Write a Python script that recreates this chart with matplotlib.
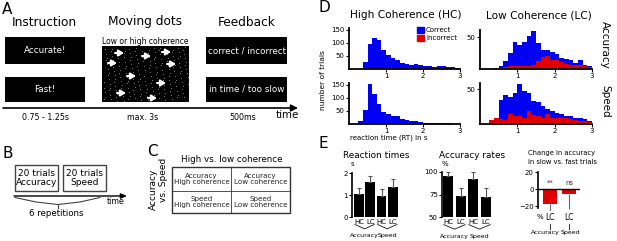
import numpy as np
import matplotlib
matplotlib.use('Agg')
import matplotlib.pyplot as plt
from matplotlib.patches import Rectangle, Patch
from matplotlib.transforms import blended_transform_factory

W, H = 617, 241

# ---------------- data ----------------
rt_bin_width = 0.125  # s
hc_acc_correct   = [0, 0, 0, 25, 97, 119, 112, 72, 54, 41, 34, 22, 19, 15, 19, 15, 10, 10, 8, 12, 12, 8, 6, 4]
hc_acc_incorrect = [0, 0, 0, 1, 2, 2, 2, 2, 1, 1, 1, 1, 1, 1, 1, 1, 0, 1, 0, 1, 0, 0, 0, 0]
lc_acc_correct   = [0, 0, 0, 2, 5, 12, 25, 43, 37, 42, 52, 60, 41, 29, 29, 26, 23, 17, 16, 14, 9, 14, 6, 5]
lc_acc_incorrect = [0, 0, 0, 1, 2, 3, 5, 5, 4, 5, 4, 6, 13, 19, 20, 14, 14, 11, 8, 6, 7, 7, 5, 3]
hc_spd_correct   = [0, 0, 10, 53, 151, 113, 76, 46, 37, 29, 32, 18, 14, 12, 10, 8, 5, 5, 4, 4, 2, 2, 1, 1]
hc_spd_incorrect = [0, 0, 1, 2, 3, 3, 2, 2, 1, 1, 1, 1, 1, 1, 1, 0, 1, 0, 0, 0, 0, 0, 0, 0]
lc_spd_correct   = [0, 0, 4, 9, 34, 42, 39, 44, 58, 47, 45, 33, 32, 26, 22, 19, 16, 14, 11, 12, 9, 8, 7, 5]
lc_spd_incorrect = [0, 0, 6, 8, 7, 6, 15, 11, 11, 9, 18, 13, 12, 9, 14, 9, 9, 8, 8, 7, 6, 4, 4, 3]

e_conditions = ['HC', 'LC', 'HC', 'LC']
e_groups = ['Accuracy', 'Speed']
rt_means = [1.03, 1.60, 0.95, 1.38]
rt_errs = [0.31, 0.28, 0.33, 0.36]
acc_means = [95.1, 73.3, 92.1, 72.6]
acc_errs = [4.5, 9.4, 7.5, 10.1]
chg_labels = ['LC', 'LC']
chg_means = [-17.6, -5.9]
chg_errs = [11.8, 17.6]
chg_sig = ['**', 'ns']

BLUE = '#0000f5'
RED = '#e00000'

fig = plt.figure(figsize=(6.17, 2.41), dpi=100)


def rect(l, t, r, b):
    return [l / W, 1 - b / H, (r - l) / W, (b - t) / H]


# overlay axes in pixel coordinates for schematic parts
ov = fig.add_axes([0, 0, 1, 1], zorder=10)
ov.set_xlim(0, W)
ov.set_ylim(H, 0)
ov.axis('off')
ov.patch.set_alpha(0)


def T(x, y, s, size, **kw):
    kw.setdefault('ha', 'center')
    kw.setdefault('va', 'center')
    ov.text(x, y, s, fontsize=size, **kw)


# panel letters
for lab, x, y in [('A', 2, 10), ('B', 3, 153), ('C', 147, 152), ('D', 318, 8), ('E', 318, 143)]:
    T(x, y, lab, 11, ha='left')

# ---------------- Panel A ----------------
T(44, 22, 'Instruction', 8.7)
T(144.5, 22, 'Moving dots', 8.7)
T(246.5, 22, 'Feedback', 8.7)
T(145, 42, 'Low or high coherence', 5.5)

for (l, t, r, b), txt in [((5, 37, 85, 64), 'Accurate!'), ((5, 77, 85, 102), 'Fast!'),
                          ((206, 37, 287, 64), 'correct / incorrect'),
                          ((206, 77, 287, 102), 'in time / too slow')]:
    ov.add_patch(Rectangle((l, t), r - l, b - t, color='black', lw=0))
    T((l + r) / 2, (t + b) / 2, txt, 6.3, color='white')

# moving dots box
ov.add_patch(Rectangle((102, 46), 87, 56, color='black', lw=0))
n = np.arange(1, 200)
g = 1.32471795724474602596
qx = (0.5 + n / g) % 1
qy = (0.5 + n / g ** 2) % 1
ov.scatter(103 + qx * 85, 47 + qy * 54, s=0.25, color='#bbbbbb', lw=0)
arrows = [(115, 53), (142, 56), (162, 52), (108, 63), (167, 64), (127, 76), (157, 83), (117, 93), (148, 98)]
for ax_, ay_ in arrows:
    ov.annotate('', xy=(ax_ + 9, ay_), xytext=(ax_, ay_),
                arrowprops=dict(arrowstyle='-|>,head_length=0.3,head_width=0.18', color='white', lw=1.5,
                                shrinkA=0, shrinkB=0))

# time arrow
ov.annotate('', xy=(298, 108), xytext=(3, 108),
            arrowprops=dict(arrowstyle='-|>,head_length=0.4,head_width=0.2', color='black', lw=1.2,
                            shrinkA=0, shrinkB=0))
T(46, 117, '0.75 - 1.25s', 5.7)
T(143, 117, 'max. 3s', 5.7)
T(243, 117, '500ms', 5.7)
T(287, 115, 'time', 7.4)

# ---------------- Panel B ----------------
for (l, r), txt in [((15, 58), '20 trials\nAccuracy'), ((63, 106), '20 trials\nSpeed')]:
    ov.add_patch(Rectangle((l, 165), r - l, 26, fill=False, ec='#444444', lw=1))
    T((l + r) / 2, 178, txt, 6.5, linespacing=1.0)
ov.annotate('', xy=(127, 196), xytext=(14, 196),
            arrowprops=dict(arrowstyle='-|>,head_length=0.35,head_width=0.15', color='black', lw=1,
                            shrinkA=0, shrinkB=0))
T(116, 202, 'time', 5.7)
ov.plot([15, 36, 58, 80, 100], [197.5, 202, 204.5, 202, 197.5], color='#444444', lw=0.8)
ov.plot([58, 58], [204.5, 207.5], color='#444444', lw=0.8)
T(56, 213, '6 repetitions', 6.2)

# ---------------- Panel C ----------------
T(232, 159, 'High vs. low coherence', 6.3)
ov.add_patch(Rectangle((172, 167), 118, 46, fill=False, ec='#333333', lw=1))
ov.plot([231, 231], [167, 213], color='#333333', lw=0.6)
ov.plot([172, 290], [190.5, 190.5], color='#333333', lw=0.6)
for x, y, txt in [(201.5, 179, 'Accuracy\nHigh coherence'), (260.5, 179, 'Accuracy\nLow coherence'),
                  (201.5, 202, 'Speed\nHigh coherence'), (260.5, 202, 'Speed\nLow coherence')]:
    T(x, y, txt, 5.1, linespacing=1.05, color='#222222')
T(153, 189, 'Accuracy', 6.5, rotation=90)
T(164, 180, 'vs. Speed', 6.5, rotation=90)

# ---------------- Panel D ----------------
T(405.5, 15, 'High Coherence (HC)', 7.6)
T(539, 15, 'Low Coherence (LC)', 7.6)
T(605, 45, 'Accuracy', 7.5, rotation=270)
T(605, 101, 'Speed', 7.5, rotation=270)
T(323, 80, 'number of trials', 5.4, rotation=90)
T(389, 138, 'reaction time (RT) in s', 5.0)


def hist(rc, correct, incorrect, ymax, yticks):
    ax = fig.add_axes(rect(*rc))
    edges = np.arange(len(correct)) * rt_bin_width
    ax.bar(edges, correct, width=rt_bin_width, align='edge', color=BLUE, lw=0)
    ax.bar(edges, incorrect, width=rt_bin_width, align='edge', color=RED, lw=0)
    ax.set_xlim(0, 3)
    ax.set_ylim(0, ymax)
    ax.set_xticks([1, 2, 3])
    ax.set_yticks(yticks)
    for s in ('top', 'right'):
        ax.spines[s].set_visible(False)
    for s in ('left', 'bottom'):
        ax.spines[s].set_linewidth(1.3)
    ax.tick_params(labelsize=5, length=2, width=0.8, pad=1)
    ax.patch.set_alpha(0)
    return ax


ax1 = hist((349, 28, 460, 69), hc_acc_correct, hc_acc_incorrect, 156, [50, 100, 150])
ax2 = hist((480, 30, 592, 69), lc_acc_correct, lc_acc_incorrect, 61, [50])
ax3 = hist((349, 83, 460, 124), hc_spd_correct, hc_spd_incorrect, 156, [50, 100, 150])
ax4 = hist((480, 83, 592, 124), lc_spd_correct, lc_spd_incorrect, 59, [50])
ax1.legend(handles=[Patch(color=BLUE, label='Correct'), Patch(color=RED, label='Incorrect')],
           loc='upper left', bbox_to_anchor=(0.58, 1.12), frameon=False, fontsize=5,
           handlelength=1.0, handleheight=1.0, handletextpad=0.3, labelspacing=0.25, borderpad=0)

# ---------------- Panel E ----------------
T(376.7, 155, 'Reaction times', 6.4)
T(471.7, 155, 'Accuracy rates', 6.4)
T(562, 153, 'Change in accuracy', 4.9)
T(562, 162, 'in slow vs. fast trials', 4.9)


def bar_panel(rc, means, errs, ylim, yticks, xlim, unit, unit_xy, width):
    ax = fig.add_axes(rect(*rc))
    x = np.arange(len(means))
    ax.bar(x, means, width=width, color='black', lw=0)
    ax.errorbar(x, means, yerr=[np.zeros(len(errs)), errs], fmt='none', ecolor='#555555',
                elinewidth=0.8, capsize=1.5, capthick=0.8)
    ax.set_xlim(*xlim)
    ax.set_ylim(*ylim)
    ax.set_yticks(yticks)
    ax.set_xticks(x)
    ax.set_xticklabels(e_conditions)
    for s in ('top', 'right', 'bottom'):
        ax.spines[s].set_visible(False)
    ax.spines['left'].set_linewidth(1.2)
    ax.tick_params(axis='y', labelsize=5, length=2, width=0.8, pad=1)
    ax.tick_params(axis='x', labelsize=5, length=0, pad=1.5)
    ax.patch.set_alpha(0)
    T(unit_xy[0], unit_xy[1], unit, 5)
    tr = blended_transform_factory(ax.transData, ax.transAxes)
    for gi, gname in enumerate(e_groups):
        c = 2 * gi + 0.5
        ax.plot([c - 0.85, c, c + 0.85], [-0.17, -0.27, -0.17], transform=tr, color='#333333',
                lw=0.7, clip_on=False)
        ax.text(c, -0.43, gname, transform=tr, fontsize=4.5, ha='center', va='center')
    return ax


bar_panel((352, 173, 400, 217), rt_means, rt_errs, (0, 2), [0, 1, 2], (-0.62, 3.63), 's', (352, 164), 0.85)
bar_panel((442, 172, 497, 217), acc_means, acc_errs, (50, 100), [50, 75, 100], (-0.5, 3.9), '%', (445, 164), 0.8)

# change in accuracy
ax7 = fig.add_axes(rect(538, 170.6, 580, 210.6))
xc = np.arange(len(chg_means))
ax7.bar(xc, chg_means, width=0.7, color=RED, lw=0)
ax7.errorbar(xc, chg_means, yerr=[chg_errs, np.zeros(len(chg_errs))], fmt='none', ecolor='#666666',
             elinewidth=0.8, capsize=0)
ax7.axhline(0, color='black', lw=1.0)
ax7.set_xlim(-0.63, 1.58)
ax7.set_ylim(-25, 22)
ax7.set_yticks([-20, 0, 20])
ax7.set_xticks([])
for s in ('top', 'right', 'bottom'):
    ax7.spines[s].set_visible(False)
ax7.spines['left'].set_linewidth(1.2)
ax7.spines['left'].set_bounds(-22, 20)
ax7.tick_params(axis='y', labelsize=5, length=2, width=0.8, pad=1)
ax7.patch.set_alpha(0)
for i, s in enumerate(chg_sig):
    ax7.text(xc[i], 8, s, fontsize=5, ha='center', va='center', color='#333333')
tr7 = blended_transform_factory(ax7.transData, ax7.transAxes)
for i, (lab, grp) in enumerate(zip(chg_labels, e_groups)):
    ax7.text(xc[i], -0.18, lab, transform=tr7, fontsize=5.5, ha='center', va='center')
    ax7.plot([xc[i], xc[i]], [-0.33, -0.46], transform=tr7, color='#333333', lw=0.7, clip_on=False)
    ax7.text(xc[i] - 0.25 + 0.35 * i, -0.55, grp, transform=tr7, fontsize=4.5, ha='center', va='center')
T(540, 217, '%', 5)

fig.savefig('out.png', dpi=100)
